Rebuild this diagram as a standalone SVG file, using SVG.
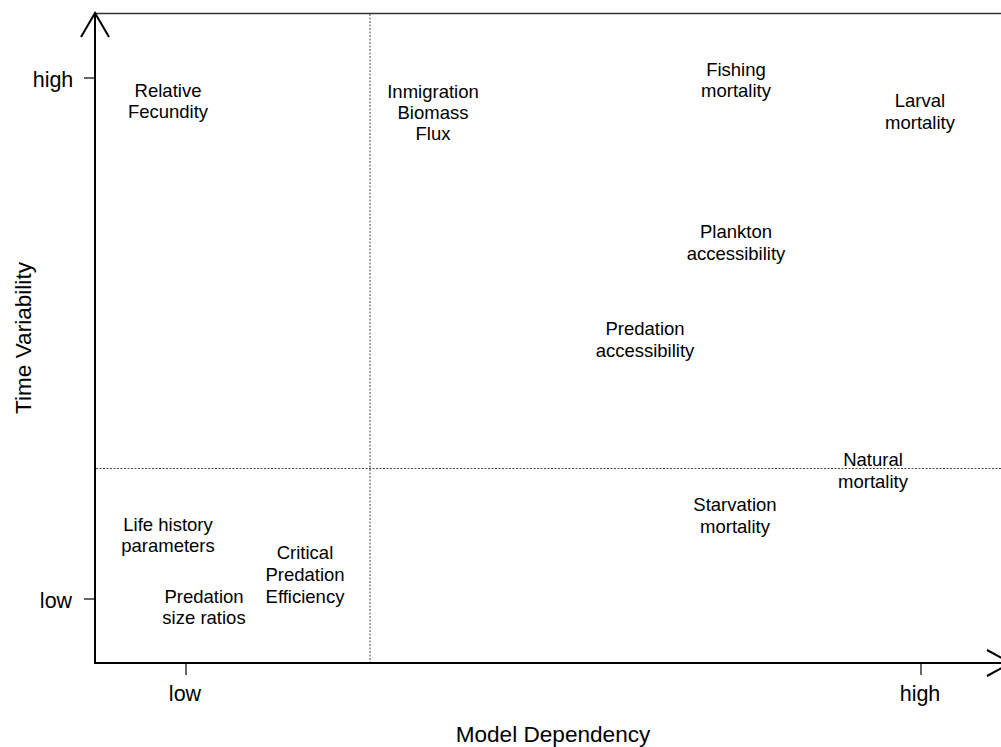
<svg xmlns="http://www.w3.org/2000/svg" width="1001" height="747" viewBox="0 0 1001 747">
<style>
text{font-family:"Liberation Sans",Arial,sans-serif;fill:#000}
.n{font-size:18.5px;text-anchor:middle}
.t{font-size:21.5px;text-anchor:middle}
.a{font-size:22.6px;text-anchor:middle}
.ax{stroke:#000;stroke-width:2;fill:none}
.dot{stroke:#444;stroke-width:1;stroke-dasharray:2,1.5;fill:none}
</style>
<rect width="1001" height="747" fill="#fff"/>
<g id="axes">
<line x1="95" y1="13.5" x2="1001" y2="13.5" stroke="#333" stroke-width="1.4"/>
<line class="ax" x1="95" y1="13" x2="95" y2="663"/>
<line class="ax" x1="94" y1="663" x2="1010" y2="663"/>
<polyline class="ax" points="81,37 95,13 109,37"/>
<polyline class="ax" points="987,650 1011,663 987,676"/>
<line x1="84" y1="78" x2="95" y2="78" stroke="#000" stroke-width="1.2"/>
<line x1="84" y1="599" x2="95" y2="599" stroke="#000" stroke-width="1.2"/>
<line x1="186" y1="663" x2="186" y2="675" stroke="#000" stroke-width="1.2"/>
<line x1="921" y1="663" x2="921" y2="675" stroke="#000" stroke-width="1.2"/>
<text class="t" x="53" y="87">high</text>
<text class="t" x="56" y="608">low</text>
<text class="t" x="185" y="701">low</text>
<text class="t" x="920" y="701">high</text>
<text class="a" x="553" y="742">Model Dependency</text>
<text class="a" transform="translate(31,338) rotate(-90)">Time Variability</text>
</g>
<g id="connectors">
<line class="dot" x1="370" y1="14" x2="370" y2="662"/>
<line class="dot" x1="96" y1="468.5" x2="1001" y2="468.5"/>
</g>
<g id="relative-fecundity"><text class="n" x="168" y="97">Relative</text><text class="n" x="168" y="118">Fecundity</text></g>
<g id="inmigration"><text class="n" x="433" y="98">Inmigration</text><text class="n" x="433" y="119">Biomass</text><text class="n" x="433" y="140">Flux</text></g>
<g id="fishing-mortality"><text class="n" x="736" y="76">Fishing</text><text class="n" x="736" y="97">mortality</text></g>
<g id="larval-mortality"><text class="n" x="920" y="107">Larval</text><text class="n" x="920" y="129">mortality</text></g>
<g id="plankton-accessibility"><text class="n" x="736" y="238">Plankton</text><text class="n" x="736" y="260">accessibility</text></g>
<g id="predation-accessibility"><text class="n" x="645" y="335">Predation</text><text class="n" x="645" y="357">accessibility</text></g>
<g id="natural-mortality"><text class="n" x="873" y="466">Natural</text><text class="n" x="873" y="488">mortality</text></g>
<g id="starvation-mortality"><text class="n" x="735" y="511">Starvation</text><text class="n" x="735" y="533">mortality</text></g>
<g id="life-history"><text class="n" x="168" y="531">Life history</text><text class="n" x="168" y="552">parameters</text></g>
<g id="critical-predation"><text class="n" x="305" y="559">Critical</text><text class="n" x="305" y="581">Predation</text><text class="n" x="305" y="603">Efficiency</text></g>
<g id="predation-size-ratios"><text class="n" x="204" y="603">Predation</text><text class="n" x="204" y="624">size ratios</text></g>
</svg>
